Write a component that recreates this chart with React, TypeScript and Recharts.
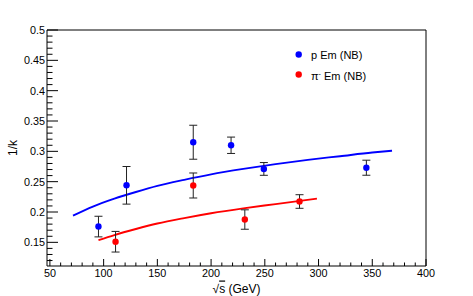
import {
  ComposedChart,
  Line,
  Scatter,
  ErrorBar,
  XAxis,
  YAxis,
  ReferenceLine,
  Label,
} from 'recharts';

// p Em (NB) measurements
const protonS = [95.2, 121.3, 183.4, 218.6, 249.1, 344.5];
const protonK = [0.176, 0.244, 0.315, 0.31, 0.271, 0.273];
const protonErr = [0.017, 0.031, 0.028, 0.0135, 0.0105, 0.0124];

// pi- Em (NB) measurements
const pionS = [111.1, 183.4, 231.4, 282.3];
const pionK = [0.151, 0.2437, 0.1876, 0.2173];
const pionErr = [0.017, 0.0206, 0.016, 0.0112];

// fit curves
const protonFitS = [71.5, 90, 110, 130, 150, 175, 200, 230, 260, 290, 320, 350, 368.4];
const protonFitK = [0.194, 0.209, 0.222, 0.233, 0.243, 0.253, 0.262, 0.271, 0.279, 0.286, 0.292, 0.298, 0.301];
const pionFitS = [95.2, 110, 130, 150, 175, 200, 230, 260, 298.5];
const pionFitK = [0.1535, 0.162, 0.172, 0.181, 0.19, 0.198, 0.206, 0.213, 0.222];

const xMajor = [50, 100, 150, 200, 250, 300, 350, 400];
const yMajor = [0.15, 0.2, 0.25, 0.3, 0.35, 0.4, 0.45, 0.5];
const yLabels = ['0.15', '0.2', '0.25', '0.3', '0.35', '0.4', '0.45', '0.5'];

const xTicks: number[] = [];
for (let v = 50; v <= 400; v += 10) xTicks.push(v);
const yTicks: number[] = [];
for (let i = 12; i <= 50; i++) yTicks.push(i / 100);

const FONT = '"Liberation Sans", Arial, Helvetica, sans-serif';
const AXIS = '#000';

const protonData = protonS.map((s, i) => ({ x: s, y: protonK[i], err: protonErr[i] }));
const pionData = pionS.map((s, i) => ({ x: s, y: pionK[i], err: pionErr[i] }));
const protonFit = protonFitS.map((s, i) => ({ x: s, y: protonFitK[i] }));
const pionFit = pionFitS.map((s, i) => ({ x: s, y: pionFitK[i] }));

const isMajor = (list: number[], v: number) => list.some((m) => Math.abs(m - v) < 1e-6);

const XTick = (props: any) => {
  const { x, y, payload } = props;
  const major = isMajor(xMajor, payload.value);
  return (
    <g>
      <line x1={x} y1={y} x2={x} y2={y - (major ? 7 : 3.5)} stroke={AXIS} />
      {major && (
        <text x={x} y={y + 11} textAnchor="middle" fontSize={10.8} fontFamily={FONT} fill="#000">
          {payload.value}
        </text>
      )}
    </g>
  );
};

const YTick = (props: any) => {
  const { x, y, payload } = props;
  const idx = yMajor.findIndex((m) => Math.abs(m - payload.value) < 1e-6);
  const major = idx >= 0;
  return (
    <g>
      <line x1={x} y1={y} x2={x + (major ? 11 : 5.5)} y2={y} stroke={AXIS} />
      {major && (
        <text x={x - 2} y={y + 4} textAnchor="end" fontSize={10.8} fontFamily={FONT} fill="#000">
          {yLabels[idx]}
        </text>
      )}
    </g>
  );
};

const Dot = (color: string) => (props: any) => <circle cx={props.cx} cy={props.cy} r={3.2} fill={color} />;

const XTitle = (props: any) => {
  const vb = props.viewBox || {};
  return (
    <text x={vb.x + vb.width / 2} y={vb.y + 26.5} textAnchor="middle" fontSize={12} fontFamily={FONT} fill="#000">
      √<tspan textDecoration="overline" style={{ textDecoration: 'overline' }}>s</tspan> (GeV)
    </text>
  );
};

const YTitle = (props: any) => {
  const vb = props.viewBox || {};
  const cx = 13;
  const cy = vb.y + vb.height / 2;
  return (
    <text x={cx} y={cy} transform={`rotate(-90 ${cx} ${cy})`} textAnchor="middle" dy="0.35em" fontSize={12} fontFamily={FONT} fill="#000">
      1/k
    </text>
  );
};

export default function App() {
  return (
    <div style={{ position: 'absolute', left: 0, top: 0, width: 473, height: 296, background: '#fff' }}>
      <ComposedChart width={473} height={296} margin={{ top: 30, right: 47, bottom: 0, left: 0 }}>
        <XAxis
          dataKey="x"
          type="number"
          domain={[47.3, 400]}
          allowDataOverflow
          ticks={xTicks}
          interval={0}
          tickSize={0}
          tickMargin={0}
          tick={<XTick />}
          tickLine={false}
          axisLine={{ stroke: AXIS }}
          height={30}
        >
          <Label content={<XTitle />} />
        </XAxis>
        <YAxis
          dataKey="y"
          type="number"
          domain={[0.111, 0.5]}
          allowDataOverflow
          ticks={yTicks}
          interval={0}
          tickSize={0}
          tickMargin={0}
          tick={<YTick />}
          tickLine={false}
          axisLine={{ stroke: AXIS }}
          width={47}
        >
          <Label content={<YTitle />} />
        </YAxis>
        <ReferenceLine y={0.5} stroke={AXIS} />
        <ReferenceLine x={400} stroke={AXIS} />
        <Line data={protonFit} dataKey="y" type="monotone" stroke="#0000ff" strokeWidth={1.9} dot={false} isAnimationActive={false} />
        <Line data={pionFit} dataKey="y" type="monotone" stroke="#ff0000" strokeWidth={1.9} dot={false} isAnimationActive={false} />
        <Scatter data={protonData} dataKey="y" shape={Dot('#0000ff')} isAnimationActive={false}>
          <ErrorBar dataKey="err" direction="y" width={4} stroke="#222" strokeWidth={1} />
        </Scatter>
        <Scatter data={pionData} dataKey="y" shape={Dot('#ff0000')} isAnimationActive={false}>
          <ErrorBar dataKey="err" direction="y" width={4} stroke="#222" strokeWidth={1} />
        </Scatter>
      </ComposedChart>
      <div style={{ position: 'absolute', left: 294, top: 46, fontFamily: FONT, fontSize: 11, color: '#000', lineHeight: '20px' }}>
        <div style={{ display: 'flex', alignItems: 'center' }}>
          <svg width={17} height={20}>
            <circle cx={4.7} cy={8.5} r={3.2} fill="#0000ff" />
          </svg>
          <span style={{ marginTop: -3 }}>p Em (NB)</span>
        </div>
        <div style={{ display: 'flex', alignItems: 'center' }}>
          <svg width={17} height={20}>
            <circle cx={4.7} cy={8.5} r={3.2} fill="#ff0000" />
          </svg>
          <span style={{ marginTop: -3 }}>
            π<sup style={{ fontSize: 7, verticalAlign: 4 }}>-</sup> Em (NB)
          </span>
        </div>
      </div>
    </div>
  );
}
